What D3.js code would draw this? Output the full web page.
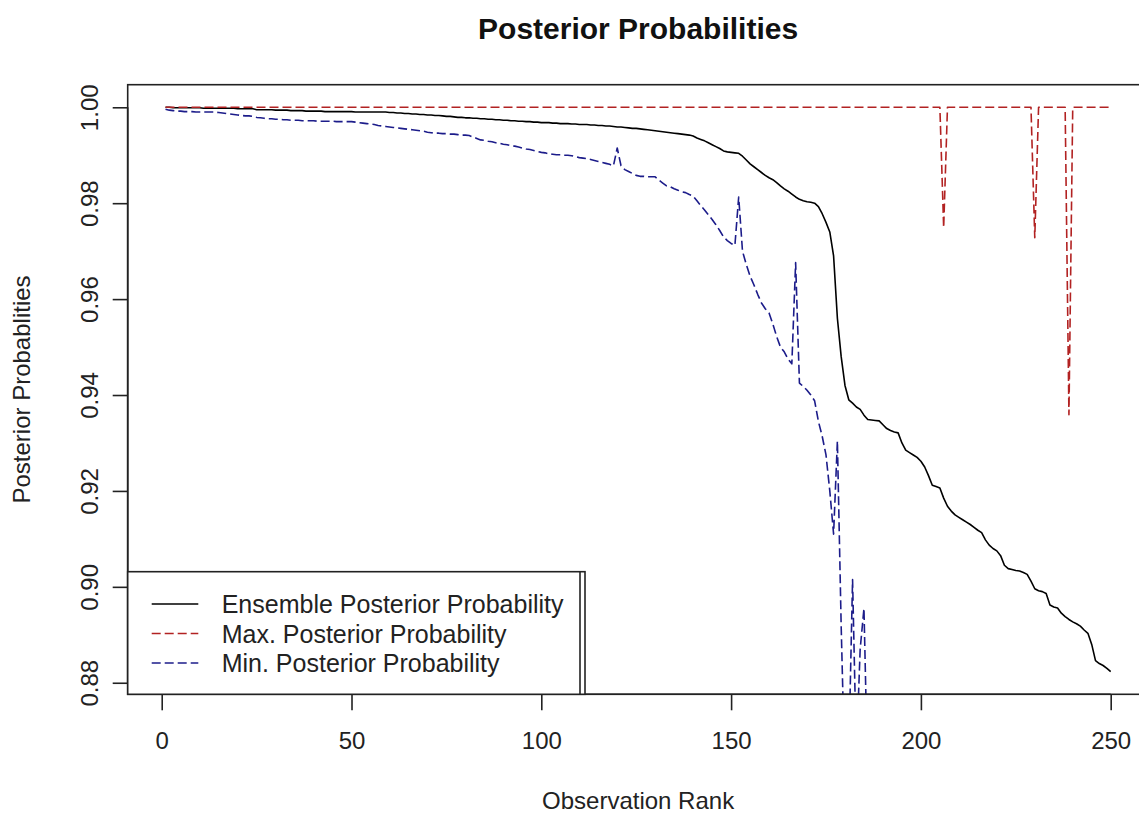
<!DOCTYPE html>
<html>
<head>
<meta charset="utf-8">
<script src="https://cdn.jsdelivr.net/npm/d3@7/dist/d3.min.js"></script>
<style>
  html, body { margin: 0; padding: 0; background: #fff; }
  svg { display: block; font-family: "Liberation Sans", Arial, sans-serif; }
</style>
</head>
<body>
<svg id="chart" width="1139" height="819"></svg>
<script>
// Ensemble posterior probability, one value per observation rank (1..250)
const ensembleProb = [
  1.0000, 1.0000, 0.9999, 0.9999, 0.9999, 0.9999, 0.9999, 0.9999, 0.9999, 0.9999,
  0.9998, 0.9998, 0.9998, 0.9998, 0.9998, 0.9998, 0.9998, 0.9998, 0.9998, 0.9997,
  0.9997, 0.9997, 0.9997, 0.9997, 0.9995, 0.9995, 0.9995, 0.9995, 0.9995, 0.9994,
  0.9994, 0.9994, 0.9994, 0.9993, 0.9993, 0.9993, 0.9993, 0.9992, 0.9992, 0.9992,
  0.9992, 0.9992, 0.9991, 0.9991, 0.9991, 0.9991, 0.9991, 0.9991, 0.9991, 0.9991,
  0.9990, 0.9990, 0.9990, 0.9990, 0.9990, 0.9990, 0.9990, 0.9990, 0.9990, 0.9989,
  0.9989, 0.9988, 0.9988, 0.9987, 0.9987, 0.9986, 0.9986, 0.9985, 0.9985, 0.9984,
  0.9984, 0.9983, 0.9983, 0.9982, 0.9981, 0.9981, 0.9980, 0.9979, 0.9979, 0.9978,
  0.9978, 0.9977, 0.9977, 0.9976, 0.9976, 0.9975, 0.9975, 0.9974, 0.9974, 0.9973,
  0.9973, 0.9972, 0.9972, 0.9971, 0.9971, 0.9970, 0.9970, 0.9969, 0.9969, 0.9968,
  0.9968, 0.9968, 0.9967, 0.9967, 0.9966, 0.9966, 0.9966, 0.9965, 0.9965, 0.9964,
  0.9964, 0.9964, 0.9963, 0.9963, 0.9962, 0.9962, 0.9961, 0.9961, 0.9960, 0.9959,
  0.9959, 0.9958, 0.9957, 0.9956, 0.9956, 0.9955, 0.9954, 0.9953, 0.9952, 0.9951,
  0.9950, 0.9949, 0.9948, 0.9947, 0.9946, 0.9945, 0.9944, 0.9943, 0.9942, 0.9940,
  0.9936, 0.9933, 0.9930, 0.9926, 0.9922, 0.9918, 0.9914, 0.9909, 0.9907, 0.9906,
  0.9905, 0.9904, 0.9898, 0.9890, 0.9882, 0.9876, 0.9870, 0.9864, 0.9858, 0.9853,
  0.9849, 0.9843, 0.9836, 0.9830, 0.9825, 0.9819, 0.9813, 0.9808, 0.9805, 0.9803,
  0.9802, 0.9800, 0.9793, 0.9778, 0.9760, 0.9740, 0.9690, 0.9560, 0.9480, 0.9420,
  0.9390, 0.9383, 0.9375, 0.9370, 0.9358, 0.9349, 0.9348, 0.9347, 0.9346, 0.9338,
  0.9330, 0.9326, 0.9323, 0.9321, 0.9300, 0.9285, 0.9280, 0.9275, 0.9270, 0.9262,
  0.9250, 0.9232, 0.9212, 0.9209, 0.9206, 0.9185, 0.9168, 0.9158, 0.9150, 0.9145,
  0.9140, 0.9135, 0.9130, 0.9124, 0.9118, 0.9113, 0.9098, 0.9087, 0.9080, 0.9075,
  0.9065, 0.9045, 0.9038, 0.9036, 0.9034, 0.9033, 0.9030, 0.9026, 0.9012, 0.8996,
  0.8992, 0.8990, 0.8986, 0.8962, 0.8958, 0.8956, 0.8945, 0.8938, 0.8932, 0.8927,
  0.8923, 0.8918, 0.8910, 0.8903, 0.8880, 0.8846, 0.8840, 0.8836, 0.8830, 0.8823
];

// Maximum posterior probability across members, ranks 1..250 (25 per row)
const maxProb = [
  1,1,1,1,1, 1,1,1,1,1, 1,1,1,1,1, 1,1,1,1,1, 1,1,1,1,1,
  1,1,1,1,1, 1,1,1,1,1, 1,1,1,1,1, 1,1,1,1,1, 1,1,1,1,1,
  1,1,1,1,1, 1,1,1,1,1, 1,1,1,1,1, 1,1,1,1,1, 1,1,1,1,1,
  1,1,1,1,1, 1,1,1,1,1, 1,1,1,1,1, 1,1,1,1,1, 1,1,1,1,1,
  1,1,1,1,1, 1,1,1,1,1, 1,1,1,1,1, 1,1,1,1,1, 1,1,1,1,1,
  1,1,1,1,1, 1,1,1,1,1, 1,1,1,1,1, 1,1,1,1,1, 1,1,1,1,1,
  1,1,1,1,1, 1,1,1,1,1, 1,1,1,1,1, 1,1,1,1,1, 1,1,1,1,1,
  1,1,1,1,1, 1,1,1,1,1, 1,1,1,1,1, 1,1,1,1,1, 1,1,1,1,1,
  1,1,1,1,1, 0.9749,1,1,1,1, 1,1,1,1,1, 1,1,1,1,1, 1,1,1,1,1,
  1,1,1,1,0.9728, 1,1,1,1,1, 1,1,1,0.9359,1, 1,1,1,1,1, 1,1,1,1,1
];

// Minimum posterior probability across members; from rank 186 on it
// falls below the displayed range
const minProb = [
  0.9996, 0.9994, 0.9993, 0.9992, 0.9992, 0.9991, 0.9991, 0.9991, 0.9990, 0.9990,
  0.9990, 0.9990, 0.9990, 0.9990, 0.9989, 0.9988, 0.9987, 0.9986, 0.9985, 0.9984,
  0.9983, 0.9982, 0.9982, 0.9981, 0.9979, 0.9978, 0.9977, 0.9976, 0.9976, 0.9975,
  0.9975, 0.9974, 0.9974, 0.9973, 0.9973, 0.9973, 0.9972, 0.9972, 0.9972, 0.9972,
  0.9971, 0.9971, 0.9971, 0.9971, 0.9971, 0.9970, 0.9970, 0.9970, 0.9970, 0.9970,
  0.9969, 0.9968, 0.9967, 0.9966, 0.9965, 0.9964, 0.9962, 0.9961, 0.9960, 0.9959,
  0.9958, 0.9957, 0.9956, 0.9955, 0.9954, 0.9953, 0.9952, 0.9951, 0.9950, 0.9948,
  0.9947, 0.9946, 0.9946, 0.9945, 0.9945, 0.9944, 0.9944, 0.9943, 0.9942, 0.9942,
  0.9941, 0.9938, 0.9935, 0.9932, 0.9931, 0.9929, 0.9928, 0.9926, 0.9925, 0.9923,
  0.9922, 0.9920, 0.9919, 0.9917, 0.9915, 0.9913, 0.9912, 0.9910, 0.9908, 0.9906,
  0.9905, 0.9903, 0.9902, 0.9901, 0.9901, 0.9900, 0.9900, 0.9899, 0.9897, 0.9895,
  0.9894, 0.9893, 0.9891, 0.9889, 0.9887, 0.9885, 0.9883, 0.9881, 0.9878, 0.9915,
  0.9878, 0.9870, 0.9866, 0.9862, 0.9858, 0.9856, 0.9856, 0.9855, 0.9855, 0.9855,
  0.9848, 0.9842, 0.9836, 0.9834, 0.9830, 0.9827, 0.9824, 0.9822, 0.9818, 0.9815,
  0.9805, 0.9795, 0.9786, 0.9776, 0.9766, 0.9755, 0.9743, 0.9730, 0.9722, 0.9716,
  0.9712, 0.9813, 0.9700, 0.9672, 0.9648, 0.9630, 0.9610, 0.9592, 0.9580, 0.9571,
  0.9548, 0.9522, 0.9500, 0.9490, 0.9475, 0.9465, 0.9676, 0.9425, 0.9418, 0.9410,
  0.9400, 0.9388, 0.9345, 0.9314, 0.9275, 0.9200, 0.9110, 0.9304, 0.8918, 0.8600,
  0.8650, 0.9015, 0.8650, 0.8870, 0.8955, 0.8600
];

const xTicks = [0, 50, 100, 150, 200, 250];
const yTicks = [0.88, 0.90, 0.92, 0.94, 0.96, 0.98, 1.00];

const seriesNames = [
  "Ensemble Posterior Probability",
  "Max. Posterior Probability",
  "Min. Posterior Probability"
];
const seriesColors = ["#000000", "#b22222", "#1c1c8a"];
const seriesDash = [null, "9,4", "9,4"];

const svg = d3.select("#chart");

// plot region
const plot = { left: 127.7, right: 1148.5, top: 84.7, bottom: 694.3 };

// axis limits padded by 4% of the data range on both sides
const nObs = ensembleProb.length;
const xPad = 0.04 * (nObs - 1);
const yLo = d3.min([d3.min(ensembleProb), d3.min(maxProb)]);
const yHi = d3.max([d3.max(ensembleProb), d3.max(maxProb)]);
const yPad = 0.04 * (yHi - yLo);

const x = d3.scaleLinear().domain([1 - xPad, nObs + xPad]).range([plot.left, plot.right]);
const y = d3.scaleLinear().domain([yLo - yPad, yHi + yPad]).range([plot.bottom, plot.top]);

svg.append("defs").append("clipPath").attr("id", "plotClip")
  .append("rect")
  .attr("x", plot.left).attr("y", plot.top)
  .attr("width", plot.right - plot.left).attr("height", plot.bottom - plot.top);

const line = d3.line().x((d, i) => x(i + 1)).y(d => y(d));

const lines = svg.append("g").attr("clip-path", "url(#plotClip)");
[ensembleProb, maxProb, minProb].forEach((vals, k) => {
  lines.append("path")
    .datum(vals)
    .attr("d", line)
    .attr("fill", "none")
    .attr("stroke", seriesColors[k])
    .attr("stroke-width", 1.6)
    .attr("stroke-dasharray", seriesDash[k])
    .attr("stroke-linejoin", "round");
});

// frame
svg.append("rect")
  .attr("x", plot.left).attr("y", plot.top)
  .attr("width", plot.right - plot.left).attr("height", plot.bottom - plot.top)
  .attr("fill", "none").attr("stroke", "#222").attr("stroke-width", 1.6);

// axes
const tickFont = 24;
const xAxis = d3.axisBottom(x).tickValues(xTicks).tickSize(16).tickPadding(22)
  .tickFormat(d3.format("d"));
const gx = svg.append("g").attr("transform", `translate(0,${plot.bottom})`).call(xAxis);
gx.select(".domain").attr("d", `M${x(xTicks[0])},0H${x(xTicks[xTicks.length - 1])}`)
  .attr("stroke", "#222").attr("stroke-width", 1.6);
gx.selectAll(".tick line").attr("stroke", "#222").attr("stroke-width", 1.6);
gx.selectAll(".tick text").attr("font-size", tickFont).attr("fill", "#222")
  .attr("font-family", "Liberation Sans, Arial, sans-serif");

const yAxis = d3.axisLeft(y).tickValues(yTicks).tickSize(15).tickFormat(d3.format(".2f"));
const gy = svg.append("g").attr("transform", `translate(${plot.left},0)`).call(yAxis);
gy.select(".domain").attr("d", `M0,${y(yTicks[0])}V${y(yTicks[yTicks.length - 1])}`)
  .attr("stroke", "#222").attr("stroke-width", 1.6);
gy.selectAll(".tick line").attr("stroke", "#222").attr("stroke-width", 1.6);
gy.selectAll(".tick text")
  .attr("font-size", tickFont).attr("fill", "#222")
  .attr("font-family", "Liberation Sans, Arial, sans-serif")
  .attr("x", null).attr("dy", null)
  .attr("text-anchor", "middle")
  .attr("dominant-baseline", "central")
  .attr("transform", "translate(-38,0) rotate(-90)");

// titles
svg.append("text")
  .attr("x", (plot.left + plot.right) / 2).attr("y", 39)
  .attr("text-anchor", "middle")
  .attr("font-size", 30).attr("font-weight", "bold").attr("fill", "#111")
  .text("Posterior Probabilities");

svg.append("text")
  .attr("x", (plot.left + plot.right) / 2).attr("y", 809)
  .attr("text-anchor", "middle")
  .attr("font-size", 24).attr("fill", "#222")
  .text("Observation Rank");

svg.append("text")
  .attr("transform", `translate(30,${(plot.top + plot.bottom) / 2}) rotate(-90)`)
  .attr("text-anchor", "middle")
  .attr("font-size", 24).attr("fill", "#222")
  .text("Posterior Probablities");

// legend, anchored in the bottom-left corner of the plot region
const legend = svg.append("g");
const lgTop = 571.7, lgRight = 585;
legend.append("rect")
  .attr("x", plot.left).attr("y", lgTop)
  .attr("width", lgRight - plot.left).attr("height", plot.bottom - lgTop)
  .attr("fill", "#fff").attr("stroke", "#222").attr("stroke-width", 1.6);
legend.append("line")
  .attr("x1", lgRight - 5).attr("x2", lgRight - 5)
  .attr("y1", lgTop).attr("y2", plot.bottom)
  .attr("stroke", "#222").attr("stroke-width", 1.6);

const rowY = d3.scalePoint().domain(seriesNames).range([604, 663]);
seriesNames.forEach((name, k) => {
  legend.append("line")
    .attr("x1", 151.7).attr("x2", 198.3)
    .attr("y1", rowY(name)).attr("y2", rowY(name))
    .attr("stroke", seriesColors[k]).attr("stroke-width", 1.6)
    .attr("stroke-dasharray", seriesDash[k]);
  legend.append("text")
    .attr("x", 221.7).attr("y", rowY(name))
    .attr("dominant-baseline", "central")
    .attr("font-size", 25).attr("fill", "#222")
    .text(name);
});
</script>
</body>
</html>
